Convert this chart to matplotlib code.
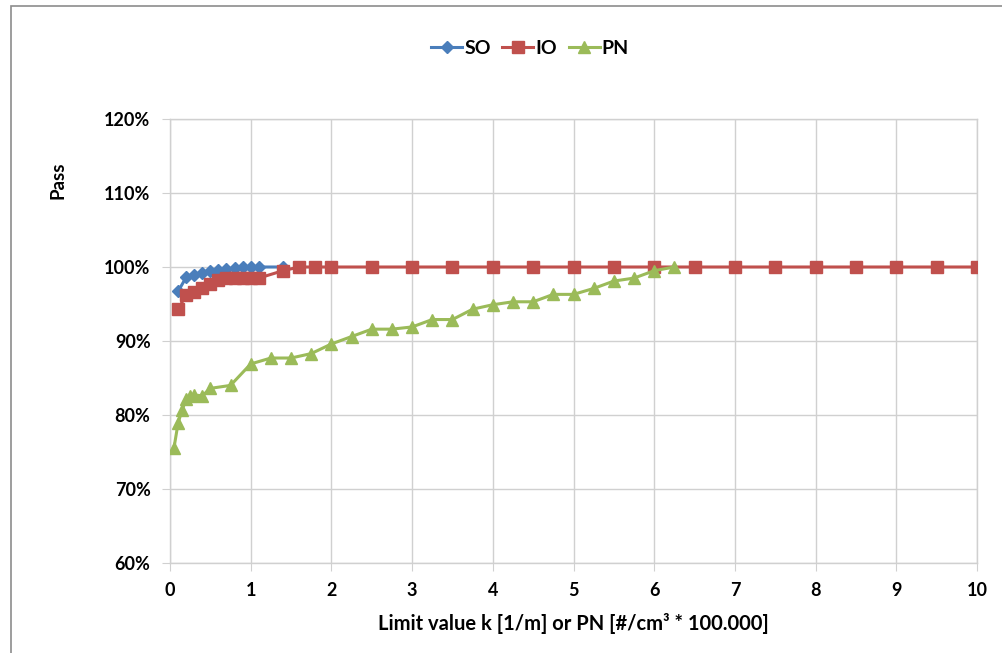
import numpy as np
import matplotlib
matplotlib.use("Agg")
import matplotlib.pyplot as plt
from matplotlib.patches import Rectangle
from matplotlib.ticker import FuncFormatter

plt.rcParams['font.family'] = ['Lato', 'DejaVu Sans']
plt.rcParams['font.weight'] = 'bold'

# --- DATEN ---
so_x = [0.1, 0.2, 0.3, 0.4, 0.5, 0.6, 0.7, 0.8, 0.9, 1.0, 1.1, 1.4]
so_y = [96.7, 98.6, 98.9, 99.2, 99.5, 99.6, 99.7, 99.8, 100, 100, 100, 100]

io_x = [0.1, 0.2, 0.3, 0.4, 0.5, 0.6, 0.7, 0.8, 0.9, 1.0, 1.1, 1.4, 1.6, 1.8, 2.0,
        2.5, 3.0, 3.5, 4.0, 4.5, 5.0, 5.5, 6.0, 6.5, 7.0, 7.5, 8.0, 8.5, 9.0, 9.5, 10.0]
io_y = [94.3, 96.2, 96.6, 97.1, 97.7, 98.2, 98.5, 98.5, 98.5, 98.5, 98.5, 99.5, 100, 100, 100,
        100, 100, 100, 100, 100, 100, 100, 100, 100, 100, 100, 100, 100, 100, 100, 100]

pn_x = [0.05, 0.1, 0.15, 0.2, 0.25, 0.3, 0.4, 0.5, 0.75, 1.0, 1.25, 1.5, 1.75, 2.0,
        2.25, 2.5, 2.75, 3.0, 3.25, 3.5, 3.75, 4.0, 4.25, 4.5, 4.75, 5.0, 5.25, 5.5,
        5.75, 6.0, 6.25]
pn_y = [75.6, 78.9, 80.7, 82.1, 82.6, 82.7, 82.6, 83.6, 84.0, 86.9, 87.7, 87.7, 88.3, 89.6,
        90.6, 91.6, 91.6, 91.9, 92.9, 92.9, 94.3, 94.9, 95.3, 95.3, 96.3, 96.3, 97.1, 98.1,
        98.5, 99.5, 100]

# --- PLOT ---
fig = plt.figure(figsize=(10.02, 6.53), dpi=100)
ax = fig.add_axes([170 / 1002, 1 - 563 / 653, 807 / 1002, 444 / 653])

# Rahmen um das Diagramm (rechts/unten abgeschnitten)
fig.patches.append(Rectangle((11 / 1002, -0.05), 1.1, 1 - 6 / 653 + 0.05,
                             transform=fig.transFigure, fill=False,
                             edgecolor='#8c8c8c', linewidth=1.2))

ax.plot(so_x, so_y, color='#4A7EBB', marker='D', markersize=6, linewidth=2.2, label='SO', zorder=3)
ax.plot(io_x, io_y, color='#C0504D', marker='s', markersize=8, linewidth=2.2, label='IO', zorder=3)
ax.plot(pn_x, pn_y, color='#9BBB59', marker='^', markersize=9, linewidth=2.2, label='PN', zorder=3)

ax.set_xlim(0, 10)
ax.set_ylim(60, 120)
ax.set_xticks(range(0, 11))
ax.set_yticks(range(60, 121, 10))
ax.yaxis.set_major_formatter(FuncFormatter(lambda v, p: f"{v:.0f}%"))

grid_c = '#d0d0d0'
ax.grid(True, color=grid_c, linewidth=1)
ax.set_axisbelow(True)
for s in ax.spines.values():
    s.set_color(grid_c)
    s.set_linewidth(1)
ax.tick_params(axis='both', direction='out', length=6, color=grid_c,
               labelsize=13, pad=8)
for lbl in ax.get_xticklabels() + ax.get_yticklabels():
    lbl.set_fontweight('bold')

ax.set_xlabel("Limit value k [1/m] or PN [#/cm³ * 100.000]", fontsize=14.5,
              fontweight='bold', labelpad=10)
fig.text(58 / 1002, 1 - 180 / 653, "Pass", rotation=90, fontsize=13.5,
         fontweight='bold', ha='center', va='center')

leg = fig.legend(loc='center', bbox_to_anchor=(530 / 1002, 1 - 48 / 653), ncol=3,
                 frameon=False, handlelength=1.6, columnspacing=0.6,
                 handletextpad=0.1, prop={'weight': 'bold', 'size': 14})

fig.savefig("out.png", dpi=100)
